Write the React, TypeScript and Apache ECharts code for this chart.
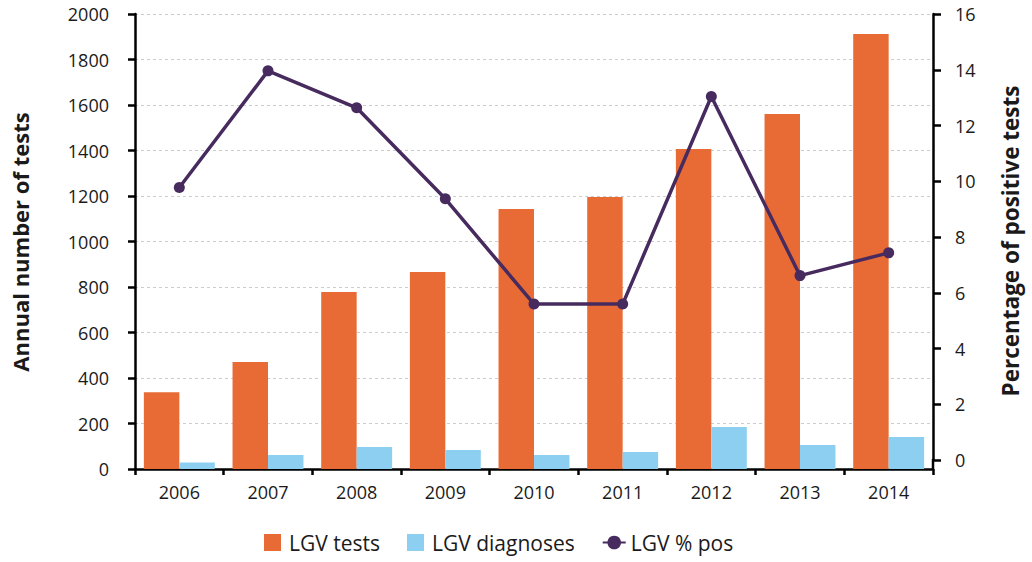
import React, { useEffect, useRef } from "react";
import * as echarts from "echarts";

const years = ["2006", "2007", "2008", "2009", "2010", "2011", "2012", "2013", "2014"];
const lgvTests = [337, 470, 778, 866, 1143, 1196, 1407, 1560, 1912];
const lgvDiagnoses = [29, 61, 97, 83, 61, 75, 185, 105, 141];
const lgvPctPos = [9.9, 14.0, 12.7, 9.5, 5.8, 5.8, 13.1, 6.8, 7.6];

const FONT = "'Open Sans', 'Noto Sans', sans-serif";
const ORANGE = "#E86B35";
const BLUE = "#8CCFF0";
const PURPLE = "#472B5F";
const TEXT = "#1a1a1a";

export default function App() {
  const ref = useRef<HTMLDivElement>(null);

  useEffect(() => {
    if (!ref.current) return;
    const chart = echarts.init(ref.current, null, { renderer: "svg" });
    const option: any = {
      animation: false,
      backgroundColor: "#ffffff",
      textStyle: { fontFamily: FONT },
      grid: [
        { left: 135, right: 99, top: 14, bottom: 93 },
        { left: 135, right: 99, top: 14, bottom: 102 },
      ],
      legend: {
        bottom: 4,
        left: 259,
        itemWidth: 23,
        itemHeight: 17,
        itemGap: 27,
        textStyle: { fontFamily: FONT, fontSize: 21, color: TEXT },
        data: [
          { name: "LGV tests", icon: "path://M0,0H10V10H0Z" },
          { name: "LGV diagnoses", icon: "path://M0,0H10V10H0Z" },
          { name: "LGV % pos" },
        ],
      },
      xAxis: [
        {
          type: "category",
          gridIndex: 0,
          data: years,
          boundaryGap: true,
          axisLine: { show: true, lineStyle: { color: "#000", width: 2.5 } },
          axisTick: { show: true, inside: false, length: 6, lineStyle: { color: "#000", width: 2.5 } },
          axisLabel: { fontFamily: FONT, fontSize: 18, color: TEXT, margin: 14 },
          splitLine: { show: false },
        },
        {
          type: "category",
          gridIndex: 1,
          data: years,
          show: false,
        },
      ],
      yAxis: [
        {
          type: "value",
          gridIndex: 0,
          position: "left",
          min: 0,
          max: 2000,
          interval: 200,
          axisLine: { show: true, lineStyle: { color: "#000", width: 2.5 } },
          axisTick: { show: true, inside: false, length: 7, lineStyle: { color: "#000", width: 2.5 } },
          axisLabel: {
            fontFamily: FONT,
            fontSize: 18,
            color: TEXT,
            margin: 26,
            formatter: (v: number) => String(v),
          },
          splitLine: { show: true, lineStyle: { color: "#cccccc", type: [3, 3], width: 1.2 } },
        },
        {
          type: "value",
          gridIndex: 0,
          position: "right",
          min: 0,
          max: 16,
          interval: 2,
          show: false,
          splitLine: { show: false },
        },
        {
          type: "value",
          gridIndex: 1,
          position: "right",
          min: 0,
          max: 16,
          interval: 2,
          axisLine: { show: true, lineStyle: { color: "#000", width: 2.5 } },
          axisTick: { show: true, inside: false, length: 8, lineStyle: { color: "#000", width: 2.5 } },
          axisLabel: { fontFamily: FONT, fontSize: 18, color: TEXT, margin: 22 },
          splitLine: { show: false },
        },
      ],
      graphic: [
        {
          type: "line",
          shape: { x1: 933, y1: 459, x2: 933, y2: 469 },
          style: { stroke: "#000", lineWidth: 2.5 },
          silent: true,
        },
        {
          type: "text",
          x: 20,
          y: 242,
          rotation: Math.PI / 2,
          style: {
            text: "Annual number of tests",
            fontFamily: FONT,
            fontSize: 22,
            fontWeight: "bold",
            fill: TEXT,
            align: "center",
            verticalAlign: "middle",
          },
        },
        {
          type: "text",
          x: 1010,
          y: 241,
          rotation: Math.PI / 2,
          style: {
            text: "Percentage of positive tests",
            fontFamily: FONT,
            fontSize: 22.5,
            fontWeight: "bold",
            fill: TEXT,
            align: "center",
            verticalAlign: "middle",
          },
        },
      ],
      series: [
        {
          name: "LGV tests",
          type: "bar",
          xAxisIndex: 0,
          yAxisIndex: 0,
          data: lgvTests,
          barGap: "0%",
          barCategoryGap: "20%",
          itemStyle: { color: ORANGE },
        },
        {
          name: "LGV diagnoses",
          type: "bar",
          xAxisIndex: 0,
          yAxisIndex: 0,
          data: lgvDiagnoses,
          barGap: "0%",
          barCategoryGap: "20%",
          itemStyle: { color: BLUE },
        },
        {
          name: "LGV % pos",
          type: "line",
          xAxisIndex: 0,
          yAxisIndex: 1,
          data: lgvPctPos,
          symbol: "circle",
          symbolSize: 11,
          lineStyle: { color: PURPLE, width: 3.5 },
          itemStyle: { color: PURPLE },
          z: 5,
        },
      ],
    };
    chart.setOption(option);
    return () => chart.dispose();
  }, []);

  return (
    <div
      ref={ref}
      style={{ position: "fixed", left: 0, top: 0, width: 1032, height: 562 }}
    />
  );
}
